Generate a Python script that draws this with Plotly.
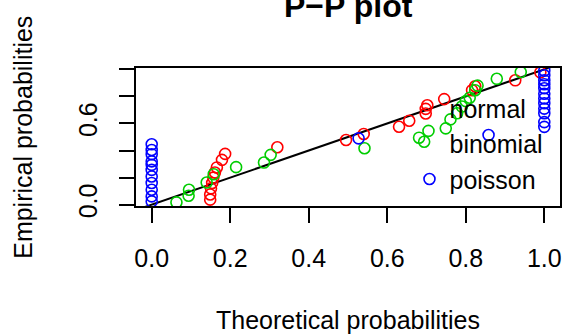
import plotly.graph_objects as go

# ---- data ----
normal_x = [0.149, 0.149, 0.151, 0.154, 0.157, 0.161, 0.166, 0.179, 0.187, 0.320,
            0.495, 0.540,
            0.630, 0.656, 0.698, 0.698, 0.702, 0.745, 0.816, 0.824, 0.926, 0.990]
normal_y = [0.037, 0.075, 0.120, 0.160, 0.200, 0.238, 0.275, 0.331, 0.375, 0.424,
            0.478, 0.522,
            0.576, 0.620, 0.674, 0.708, 0.735, 0.780, 0.846, 0.875, 0.919, 0.978]

binomial_x = [0.063, 0.094, 0.095, 0.140, 0.158, 0.215, 0.286, 0.303,
              0.542, 0.681, 0.694, 0.705, 0.749, 0.761, 0.778, 0.790, 0.800, 0.810,
              0.824, 0.830, 0.879, 0.940]
binomial_y = [0.017, 0.066, 0.110, 0.164, 0.225, 0.277, 0.311, 0.368,
              0.417, 0.495, 0.465, 0.545, 0.564, 0.630, 0.675, 0.725, 0.765, 0.790,
              0.846, 0.880, 0.930, 0.980]

poisson_x = [0.0] * 11 + [0.527, 0.858] + [1.0] * 12
poisson_y = [0.446, 0.404, 0.373, 0.320, 0.294, 0.257, 0.208, 0.160, 0.110, 0.061, 0.024,
             0.490, 0.515,
             0.990, 0.956, 0.920, 0.890, 0.860, 0.820, 0.785, 0.750, 0.710, 0.675, 0.610, 0.575]

ref_line = [-0.05, 1.05]
x_ticks = [0.0, 0.2, 0.4, 0.6, 0.8, 1.0]
x_ticktext = ["0.0", "0.2", "0.4", "0.6", "0.8", "1.0"]
y_ticks = [0.0, 0.2, 0.4, 0.6, 0.8, 1.0]
y_ticktext = ["0.0", "", "", "0.6", "", ""]

FONT = "Liberation Sans, Arial, Helvetica, sans-serif"
RED, GREEN, BLUE = "#FF0000", "#00CD00", "#0000FF"

def mk(color):
    return dict(symbol="circle-open", size=11, color=color, line=dict(width=1.6, color=color))

fig = go.Figure()
fig.add_trace(go.Scatter(x=ref_line, y=ref_line, mode="lines",
                         line=dict(color="black", width=2), showlegend=False, hoverinfo="skip"))
fig.add_trace(go.Scatter(x=normal_x, y=normal_y, mode="markers", marker=mk(RED),
                         name="normal", showlegend=False))
fig.add_trace(go.Scatter(x=binomial_x, y=binomial_y, mode="markers", marker=mk(GREEN),
                         name="binomial", showlegend=False))
# legend entries without visible symbols (as in the reference)
fig.add_trace(go.Scatter(x=[None], y=[None], mode="markers",
                         marker=dict(symbol="circle-open", size=11, color="rgba(0,0,0,0)"),
                         name="normal", showlegend=True))
fig.add_trace(go.Scatter(x=[None], y=[None], mode="markers",
                         marker=dict(symbol="circle-open", size=11, color="rgba(0,0,0,0)"),
                         name="binomial", showlegend=True))
fig.add_trace(go.Scatter(x=poisson_x, y=poisson_y, mode="markers", marker=mk(BLUE),
                         name="poisson", showlegend=True))

axis_common = dict(showgrid=False, zeroline=False, showline=True, linecolor="black",
                   linewidth=2, mirror=True, ticks="outside", tickwidth=2, ticklen=15,
                   tickcolor="black", tickfont=dict(family=FONT, size=25, color="black"))

fig.update_layout(
    width=569, height=335,
    margin=dict(l=136, r=7, t=68, b=129),
    paper_bgcolor="white", plot_bgcolor="white",
    font=dict(family=FONT, size=25, color="black"),
    xaxis=dict(range=[-0.04, 1.04], tickvals=x_ticks, ticktext=x_ticktext,
               ticklabelstandoff=14, **axis_common),
    yaxis=dict(range=[-0.01, 1.01], tickvals=y_ticks, ticktext=y_ticktext,
               tickangle=-90, ticklabelstandoff=12, **axis_common),
    legend=dict(x=0.645, y=0.875, xanchor="left", yanchor="top",
                bgcolor="rgba(0,0,0,0)", font=dict(family=FONT, size=25, color="black"),
                tracegroupgap=0),
    showlegend=True,
    annotations=[
        dict(text="<b>P\u2212P plot</b>", xref="paper", yref="paper", x=0.5, y=1.446,
             xanchor="center", yanchor="middle", showarrow=False,
             font=dict(family=FONT, size=32, color="black")),
        dict(text="Theoretical probabilities", xref="paper", yref="paper", x=0.5, y=-0.828,
             xanchor="center", yanchor="middle", showarrow=False,
             font=dict(family=FONT, size=25, color="black")),
        dict(text="Empirical probabilities", xref="paper", yref="paper", x=-0.267, y=0.5,
             xanchor="center", yanchor="middle", textangle=-90, showarrow=False,
             font=dict(family=FONT, size=25, color="black")),
    ],
)

fig.write_html("out.html", config={"displayModeBar": False},
               post_script="document.body.style.margin='0px';")
